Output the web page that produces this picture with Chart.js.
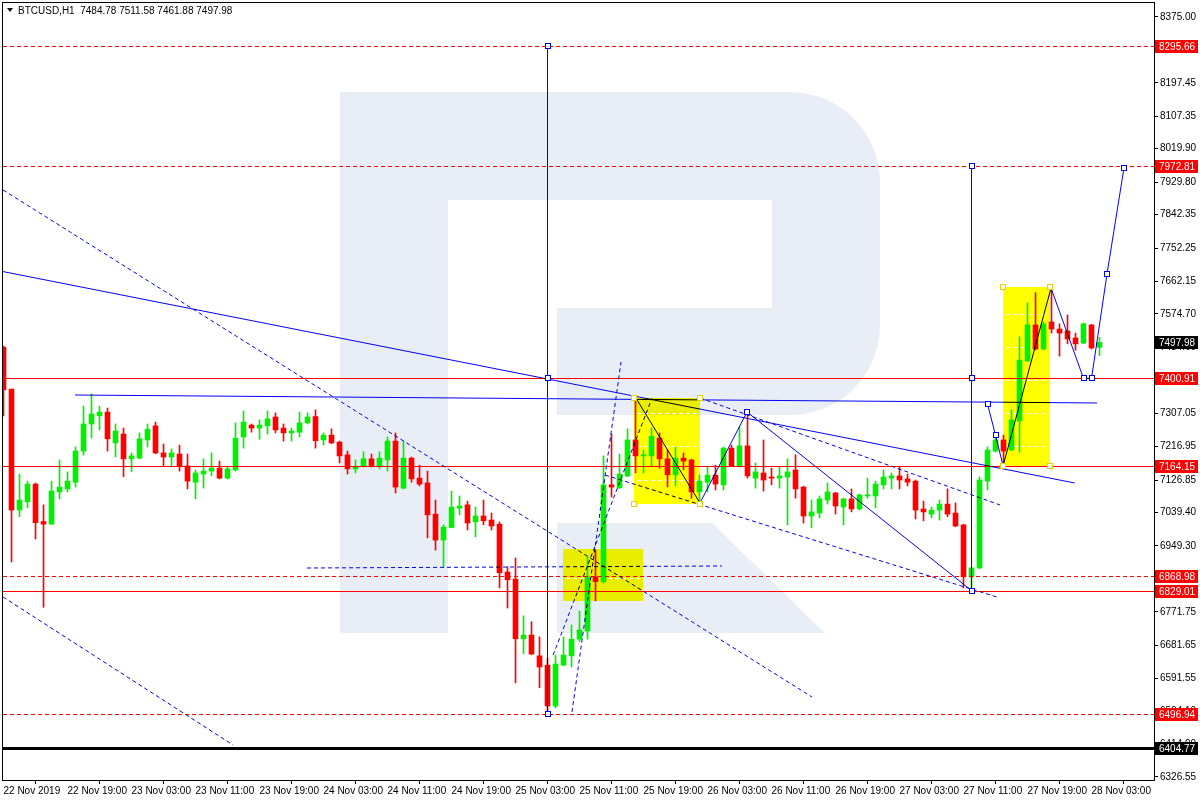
<!DOCTYPE html>
<html>
<head>
<meta charset="utf-8">
<script src="https://cdn.jsdelivr.net/npm/chart.js@4.4.1/dist/chart.umd.min.js"></script>
<style>
  html, body { margin: 0; padding: 0; background: #fff; }
  #wrap { width: 1200px; height: 800px; }
</style>
</head>
<body>
<div id="wrap"><canvas id="myChart" width="1200" height="800"></canvas></div>
<script>
// BTCUSD H1, one candle per hour, index 0 = 22 Nov 2019 11:00
const title = 'BTCUSD,H1  7484.78 7511.58 7461.88 7497.98';

const opens = [
  7485, 7372, 7046, 7068, 7116, 7015, 7008, 7095, 7103, 7121,
  7205, 7278, 7300, 7310, 7227, 7251, 7184, 7186, 7235, 7273,
  7200, 7189, 7197, 7165, 7121, 7143, 7151, 7159, 7132, 7154,
  7243, 7275, 7267, 7273, 7297, 7267, 7254, 7256, 7281, 7298,
  7235, 7248, 7229, 7195, 7157, 7165, 7184, 7165, 7181, 7232,
  7105, 7186, 7132, 7119, 7035, 6965, 6999, 7051, 7060, 7014,
  7030, 7019, 7008, 6879, 6860, 6699, 6709, 6653, 6628, 6518,
  6628, 6653, 6698, 6720, 6866, 6853, 7114, 7106, 7138, 7235,
  7192, 7192, 7240, 7184, 7141, 7186, 7181, 7095, 7121, 7140,
  7114, 7213, 7165, 7219, 7132, 7146, 7135, 7132, 7135, 7154,
  7108, 7030, 7038, 7073, 7092, 7054, 7076, 7049, 7084, 7084,
  7114, 7132, 7138, 7130, 7124, 7049, 7035, 7046, 7062, 7038,
  7006, 6866, 6890, 7124, 7205, 7235, 7208, 7286, 7448, 7545,
  7480, 7553, 7534, 7529, 7510, 7496, 7545, 7484.78
];
const highs = [
  7488, 7372, 7143, 7124, 7119, 7060, 7124, 7181, 7149, 7216,
  7326, 7359, 7326, 7321, 7278, 7267, 7200, 7254, 7278, 7283,
  7224, 7211, 7221, 7197, 7154, 7184, 7200, 7178, 7162, 7281,
  7313, 7278, 7289, 7313, 7308, 7278, 7267, 7310, 7308, 7316,
  7254, 7265, 7232, 7205, 7181, 7203, 7197, 7203, 7243, 7254,
  7232, 7189, 7167, 7151, 7073, 7006, 7097, 7084, 7070, 7054,
  7073, 7038, 7014, 6893, 6917, 6761, 6745, 6704, 6647, 6655,
  6704, 6736, 6774, 6920, 6938, 7192, 7251, 7197, 7265, 7345,
  7208, 7267, 7254, 7208, 7216, 7200, 7183, 7140, 7162, 7167,
  7216, 7221, 7270, 7311, 7173, 7235, 7159, 7162, 7184, 7195,
  7110, 7073, 7084, 7119, 7094, 7078, 7103, 7089, 7132, 7124,
  7154, 7146, 7162, 7143, 7127, 7070, 7054, 7073, 7103, 7065,
  7008, 6892, 7135, 7216, 7254, 7248, 7316, 7513, 7604, 7632,
  7553, 7639, 7548, 7572, 7523, 7550, 7546, 7511.58
];
const lows = [
  7300, 6906, 7028, 7052, 6968, 6784, 7008, 7076, 7095, 7108,
  7194, 7240, 7262, 7205, 7189, 7136, 7149, 7184, 7216, 7198,
  7165, 7165, 7151, 7103, 7076, 7105, 7138, 7130, 7130, 7151,
  7213, 7256, 7237, 7251, 7254, 7232, 7232, 7243, 7278, 7213,
  7221, 7225, 7173, 7143, 7146, 7162, 7162, 7157, 7151, 7092,
  7103, 7121, 7111, 6971, 6938, 6893, 6998, 7033, 6992, 6974,
  7006, 6992, 6836, 6782, 6580, 6659, 6656, 6567, 6497, 6513,
  6626, 6623, 6691, 6698, 6801, 6849, 7081, 7104, 7136, 7146,
  7146, 7165, 7159, 7108, 7111, 7154, 7078, 7068, 7095, 7100,
  7100, 7163, 7163, 7132, 7105, 7097, 7114, 7105, 7006, 7078,
  7011, 6998, 7025, 7062, 7035, 7006, 7041, 7046, 7078, 7052,
  7103, 7103, 7103, 7111, 7022, 7017, 7025, 7019, 7028, 7001,
  6836, 6829, 6888, 7100, 7202, 7175, 7206, 7202, 7446, 7478,
  7478, 7523, 7461, 7494, 7477, 7494, 7480, 7461.88
];
const closes = [
  7370, 7046, 7073, 7116, 7012, 7008, 7097, 7108, 7124, 7205,
  7278, 7305, 7310, 7238, 7259, 7184, 7192, 7238, 7264, 7200,
  7189, 7200, 7165, 7124, 7146, 7151, 7159, 7132, 7157, 7240,
  7283, 7267, 7275, 7292, 7262, 7254, 7259, 7281, 7297, 7233,
  7248, 7227, 7192, 7157, 7162, 7184, 7165, 7186, 7232, 7108,
  7186, 7130, 7116, 7033, 6965, 7000, 7054, 7057, 7011, 7030,
  7017, 7003, 6877, 6858, 6699, 6709, 6658, 6623, 6518, 6631,
  6655, 6698, 6723, 6866, 6853, 7114, 7108, 7143, 7235, 7192,
  7195, 7245, 7184, 7141, 7186, 7178, 7095, 7124, 7140, 7116,
  7213, 7165, 7219, 7138, 7149, 7127, 7132, 7138, 7149, 7103,
  7030, 7041, 7076, 7095, 7057, 7076, 7049, 7087, 7087, 7116,
  7135, 7138, 7127, 7121, 7046, 7041, 7046, 7062, 7035, 7003,
  6866, 6890, 7127, 7208, 7235, 7205, 7289, 7450, 7545, 7480,
  7548, 7534, 7523, 7507, 7494, 7548, 7483, 7497.98
];

// axis ticks
const timeTicks = [0, 8, 16, 24, 32, 40, 48, 56, 64, 72, 80, 88, 96, 104, 112, 120, 128, 136];
const timeLabels = [
  '22 Nov 2019', '22 Nov 19:00', '23 Nov 03:00', '23 Nov 11:00', '23 Nov 19:00',
  '24 Nov 03:00', '24 Nov 11:00', '24 Nov 19:00', '25 Nov 03:00', '25 Nov 11:00',
  '25 Nov 19:00', '26 Nov 03:00', '26 Nov 11:00', '26 Nov 19:00', '27 Nov 03:00',
  '27 Nov 11:00', '27 Nov 19:00', '28 Nov 03:00'
];
const priceTicks = [
  8375.00, 8287.55, 8197.45, 8107.35, 8019.90, 7929.80, 7842.35, 7752.25,
  7662.15, 7574.70, 7484.60, 7397.15, 7307.05, 7216.95, 7126.85, 7039.40,
  6949.30, 6859.20, 6771.75, 6681.65, 6591.55, 6504.10, 6414.00, 6326.55
];

// price levels drawn on the chart
const dashedLevels = [8295.66, 7972.81, 6868.98, 6496.94];
const solidLevels = [7400.91, 7164.15, 6829.01];
const supportLevel = 6404.77;
const lastPrice = 7497.98;

// analysis objects, as [bar index, price] pairs
const blueSolid = [
  [[-0.44, 7690.4], [133.9, 7118.9]],
  [[8.94, 7356.1], [136.7, 7334.6]],
  [[68, 8295.66], [68, 6496.94]],
  [[121, 7972.81], [121, 6829.01]],
  [[87.06, 7065.0], [92.94, 7310.3]],
  [[92.94, 7310.3], [121, 6829.01]],
  [[123, 7332.0], [124, 7248.0]],
  [[124, 7248.0], [124.94, 7166.0]],
  [[130.94, 7644.5], [135, 7400.91]],
  [[135, 7400.91], [136, 7400.91]],
  [[136, 7400.91], [137.94, 7682.3]],
  [[137.94, 7682.3], [140.06, 7968.0]]
];
const blackSolid = [
  [[79.06, 7347.5], [87.06, 7065.0]],
  [[124.94, 7164.7], [130.94, 7644.5]]
];
const blueDashed = [
  [[-0.06, 7908.7], [101.06, 6542.1]],
  [[-0.06, 6811.7], [28.69, 6412.7]],
  [[37.94, 6889.8], [89.81, 6895.2]],
  [[71.06, 6501.7], [77.19, 7445.1]],
  [[68.7, 6655.0], [81.06, 7347.5]],
  [[75.19, 7140.3], [124.19, 6811.5]],
  [[87.06, 7348.1], [124.56, 7059.7]]
];
const markers = [
  [68, 8295.66], [68, 7400.91], [68, 6496.94],
  [121, 7972.81], [121, 7400.91], [121, 6829.01],
  [92.94, 7310.3], [123, 7332.0], [124, 7248.0],
  [135, 7400.91], [136, 7400.91], [137.94, 7682.3], [140.06, 7968.0]
];
// yellow boxes: [start index, end index, top price, bottom price]
const boxes = [
  [69.94, 79.94, 6941.0, 6801.0],
  [78.81, 87.06, 7348.1, 7062.3],
  [124.94, 130.81, 7647.2, 7164.8]
];
const boxLevels = [
  [6862.9],
  [7307.6, 7218.6, 7127.0],
  [7574.5, 7485.5, 7396.6, 7307.6, 7218.6]
];

const GREEN = '#00f000';
const RED = '#ff0000';
const FONT = '"Liberation Sans", Arial, sans-serif';

const wicks = opens.map((o, i) => ({ x: i, y: [lows[i], highs[i]] }));
const bodies = opens.map((o, i) => ({ x: i, y: [o, closes[i]] }));
const colors = opens.map((o, i) => closes[i] >= o ? GREEN : RED);

function P(chart, pt) {
  return [chart.scales.x.getPixelForValue(pt[0]), chart.scales.y.getPixelForValue(pt[1])];
}

function drawSeg(ctx, chart, seg) {
  const a = P(chart, seg[0]), b = P(chart, seg[1]);
  ctx.beginPath();
  ctx.moveTo(a[0], a[1]);
  ctx.lineTo(b[0], b[1]);
  ctx.stroke();
}

function drawWatermark(ctx) {
  ctx.save();
  ctx.fillStyle = '#e9edf5';
  ctx.fillRect(340, 92, 108, 541);
  ctx.beginPath();
  ctx.moveTo(448, 92);
  ctx.lineTo(790, 92);
  ctx.arcTo(880, 92, 880, 182, 90);
  ctx.lineTo(880, 325);
  ctx.arcTo(880, 415, 790, 415, 90);
  ctx.lineTo(557, 415);
  ctx.lineTo(557, 308);
  ctx.lineTo(772, 308);
  ctx.lineTo(772, 200);
  ctx.lineTo(448, 200);
  ctx.closePath();
  ctx.fill();
  ctx.beginPath();
  ctx.moveTo(557, 523);
  ctx.lineTo(712, 523);
  ctx.lineTo(825, 633);
  ctx.lineTo(557, 633);
  ctx.closePath();
  ctx.fill();
  ctx.restore();
}

const background = {
  id: 'background',
  beforeDatasetsDraw(chart) {
    const ctx = chart.ctx, area = chart.chartArea;
    ctx.save();
    ctx.beginPath();
    ctx.rect(area.left, area.top, area.right - area.left, area.bottom - area.top);
    ctx.clip();
    drawWatermark(ctx);
    // yellow boxes
    ctx.globalCompositeOperation = 'multiply';
    ctx.fillStyle = '#ffff00';
    boxes.forEach(b => {
      const a = P(chart, [b[0], b[2]]), c = P(chart, [b[1], b[3]]);
      ctx.fillRect(a[0], a[1], c[0] - a[0], c[1] - a[1]);
    });
    ctx.globalCompositeOperation = 'source-over';
    ctx.strokeStyle = '#ffffff';
    ctx.lineWidth = 1;
    ctx.setLineDash([4, 3]);
    boxes.forEach((b, i) => {
      boxLevels[i].forEach(v => {
        const y = Math.round(chart.scales.y.getPixelForValue(v)) + 0.5;
        const x0 = chart.scales.x.getPixelForValue(b[0]) + 3;
        const x1 = chart.scales.x.getPixelForValue(b[1]) - 3;
        ctx.beginPath();
        ctx.moveTo(x0, y);
        ctx.lineTo(x1, y);
        ctx.stroke();
      });
    });
    ctx.restore();
  }
};

const objects = {
  id: 'objects',
  afterDatasetsDraw(chart) {
    const ctx = chart.ctx, area = chart.chartArea, ys = chart.scales.y;
    ctx.save();
    ctx.beginPath();
    ctx.rect(area.left, area.top, area.right - area.left, area.bottom - area.top);
    ctx.clip();

    const hline = (v, color, width, dash) => {
      const y = Math.round(ys.getPixelForValue(v)) + (width % 2 ? 0.5 : 0);
      ctx.strokeStyle = color;
      ctx.lineWidth = width;
      ctx.setLineDash(dash);
      ctx.beginPath();
      ctx.moveTo(area.left, y);
      ctx.lineTo(area.right, y);
      ctx.stroke();
    };
    dashedLevels.forEach(v => hline(v, RED, 1, [4, 3]));
    solidLevels.forEach(v => hline(v, RED, 1, []));
    hline(supportLevel, '#000000', 3, []);

    ctx.lineWidth = 1;
    ctx.globalCompositeOperation = 'darken';
    ctx.strokeStyle = '#0000ff';
    ctx.setLineDash([4, 3]);
    blueDashed.forEach(s => drawSeg(ctx, chart, s));
    ctx.setLineDash([]);
    blueSolid.forEach(s => drawSeg(ctx, chart, s));
    ctx.globalCompositeOperation = 'source-over';
    ctx.strokeStyle = '#000000';
    blackSolid.forEach(s => drawSeg(ctx, chart, s));

    // point markers
    ctx.strokeStyle = '#0000ff';
    markers.forEach(m => {
      const p = P(chart, m);
      ctx.fillStyle = '#ffffff';
      ctx.fillRect(Math.round(p[0]) - 3, Math.round(p[1]) - 3, 6, 6);
      ctx.strokeRect(Math.round(p[0]) - 2.5, Math.round(p[1]) - 2.5, 5, 5);
    });
    ctx.strokeStyle = '#e6d200';
    ctx.fillStyle = '#ffffff';
    boxes.slice(1).forEach(b => {
      [[b[0], b[2]], [b[1], b[2]], [b[0], b[3]], [b[1], b[3]]].forEach(c => {
        const p = P(chart, c);
        ctx.fillRect(Math.round(p[0]) - 3, Math.round(p[1]) - 3, 6, 6);
        ctx.strokeRect(Math.round(p[0]) - 2.5, Math.round(p[1]) - 2.5, 5, 5);
      });
    });
    ctx.restore();
  },
  afterDraw(chart) {
    const ctx = chart.ctx, area = chart.chartArea, ys = chart.scales.y;
    ctx.save();
    // frame
    ctx.strokeStyle = '#000000';
    ctx.lineWidth = 1;
    ctx.strokeRect(area.left - 0.5, area.top - 0.5, area.right - area.left + 1, area.bottom - area.top + 1);

    // price labels on the right axis
    ctx.font = '10px ' + FONT;
    ctx.textBaseline = 'middle';
    const tag = (v, bg) => {
      const y = Math.round(ys.getPixelForValue(v));
      ctx.fillStyle = bg;
      ctx.fillRect(area.right + 1, y - 6, 43, 13);
      ctx.fillStyle = '#ffffff';
      ctx.fillText(v.toFixed(2), area.right + 5, y + 1);
    };
    dashedLevels.concat(solidLevels).forEach(v => tag(v, RED));
    tag(supportLevel, '#000000');
    tag(lastPrice, '#000000');

    // symbol caption
    ctx.fillStyle = '#000000';
    ctx.beginPath();
    ctx.moveTo(7, 8);
    ctx.lineTo(13, 8);
    ctx.lineTo(10, 12);
    ctx.closePath();
    ctx.fill();
    ctx.fillText(title, 18, 11);
    ctx.restore();
  }
};

new Chart(document.getElementById('myChart'), {
  type: 'bar',
  data: {
    datasets: [
      { data: wicks, backgroundColor: colors, barThickness: 1, grouped: false, minBarLength: 1 },
      { data: bodies, backgroundColor: colors, barThickness: 5, grouped: false, minBarLength: 1 }
    ]
  },
  options: {
    responsive: false,
    animation: false,
    devicePixelRatio: 1,
    layout: { padding: { left: 3, top: 3, right: 0, bottom: 0 } },
    plugins: { legend: { display: false }, tooltip: { enabled: false } },
    scales: {
      x: {
        type: 'linear',
        position: 'bottom',
        min: -0.0625,
        max: 143.8125,
        offset: false,
        afterFit(scale) {
          scale.height = 20;
          scale.paddingLeft = 0;
          scale.paddingRight = 0;
        },
        afterBuildTicks(scale) { scale.ticks = timeTicks.map(v => ({ value: v })); },
        grid: { drawOnChartArea: false, drawTicks: true, tickLength: 4, color: '#000000' },
        border: { display: true, color: '#000000' },
        ticks: {
          autoSkip: false, maxRotation: 0, minRotation: 0, align: 'start', padding: 1,
          color: '#000000', font: { family: FONT, size: 10 },
          callback(v) { const i = timeTicks.indexOf(v); return i >= 0 ? timeLabels[i] : ''; }
        }
      },
      y: {
        type: 'linear',
        position: 'right',
        min: 6318.4,
        max: 8412.7,
        afterFit(scale) {
          scale.width = 46;
          scale.paddingTop = 0;
          scale.paddingBottom = 0;
        },
        afterBuildTicks(scale) { scale.ticks = priceTicks.map(v => ({ value: v })); },
        grid: { drawOnChartArea: false, drawTicks: true, tickLength: 4, color: '#000000' },
        border: { display: true, color: '#000000' },
        ticks: {
          padding: 2, color: '#000000', font: { family: FONT, size: 10 },
          callback(v) { return Number(v).toFixed(2); }
        }
      }
    }
  },
  plugins: [background, objects]
});
</script>
</body>
</html>
